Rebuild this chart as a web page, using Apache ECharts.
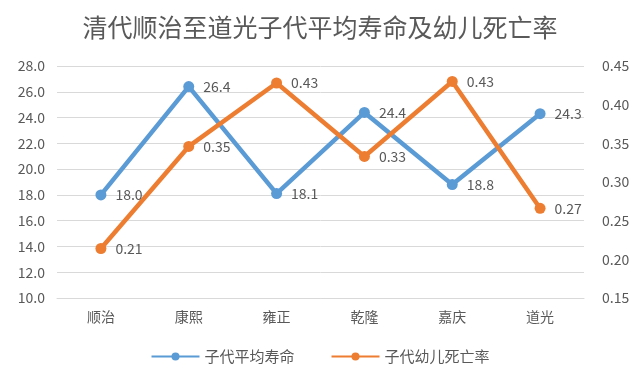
<!DOCTYPE html>
<html><head><meta charset="utf-8">
<script src="https://cdn.jsdelivr.net/npm/echarts@6/dist/echarts.min.js"></script>
<style>html,body{margin:0;padding:0;background:#fff}#c{width:640px;height:381px}</style>
</head><body><div id="c"></div>
<script>
const categories = ['顺治','康熙','雍正','乾隆','嘉庆','道光'];
const lifespan = [18.0, 26.4, 18.1, 24.4, 18.8, 24.3];
const mortality = [0.214, 0.346, 0.428, 0.333, 0.43, 0.266];
const seriesNames = ['子代平均寿命','子代幼儿死亡率'];
const titleText = '清代顺治至道光子代平均寿命及幼儿死亡率';
const font = '"Noto Sans CJK SC", "Open Sans", sans-serif';
const chart = echarts.init(document.getElementById('c'));
chart.setOption({
  animation: false,
  title: {text: titleText, left: 'center', top: 10, textStyle: {fontFamily: font, fontSize: 25, fontWeight: 'normal', color: '#595959'}},
  legend: {bottom: 12, itemGap: 36, itemWidth: 48, itemHeight: 10, textStyle: {fontFamily: font, fontSize: 15, color: '#595959'},
    data: seriesNames},
  grid: {left: 57, right: 56, top: 66, bottom: 83},
  xAxis: {type: 'category', data: categories, boundaryGap: true,
    axisLine: {lineStyle: {color: '#d9d9d9'}}, axisTick: {show: false},
    axisLabel: {fontFamily: font, fontSize: 14, color: '#595959', margin: 12}},
  yAxis: [
    {type: 'value', min: 10, max: 28, interval: 2,
      axisLabel: {formatter: v => v.toFixed(1), fontFamily: font, fontSize: 14, color: '#595959', margin: 12},
      splitLine: {lineStyle: {color: '#d9d9d9', width: 1}}, axisLine: {show: false}, axisTick: {show: false}},
    {type: 'value', min: 0.15, max: 0.45, interval: 0.05,
      axisLabel: {formatter: v => v.toFixed(2), fontFamily: font, fontSize: 14, color: '#595959', margin: 18},
      splitLine: {show: false}, axisLine: {show: false}, axisTick: {show: false}}
  ],
  series: [
    {name: seriesNames[0], type: 'line', data: lifespan, yAxisIndex: 0, symbol: 'circle', symbolSize: 11,
      itemStyle: {color: '#5B9BD5'}, lineStyle: {width: 4.5, color: '#5B9BD5'},
      label: {show: true, position: 'right', distance: 9, formatter: p => p.value.toFixed(1), fontFamily: font, fontSize: 14, color: '#595959'}},
    {name: seriesNames[1], type: 'line', data: mortality, yAxisIndex: 1, symbol: 'circle', symbolSize: 11,
      itemStyle: {color: '#ED7D31'}, lineStyle: {width: 4.5, color: '#ED7D31'},
      label: {show: true, position: 'right', distance: 9, formatter: p => p.value.toFixed(2), fontFamily: font, fontSize: 14, color: '#595959'}}
  ]
});
</script></body></html>
